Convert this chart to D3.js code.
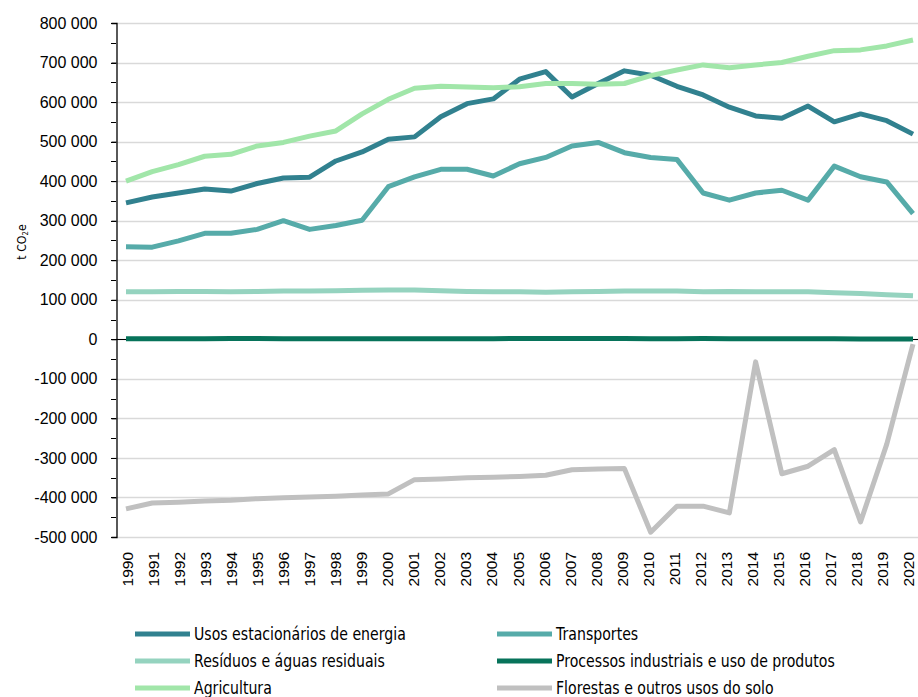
<!DOCTYPE html>
<html>
<head>
<meta charset="utf-8">
<script src="https://cdn.jsdelivr.net/npm/d3@7"></script>
<style>
  body { margin: 0; background: #fff; }
  svg { display: block; }
</style>
</head>
<body>
<script>
var width = 918,
    height = 697;

var years = d3.range(1990, 2021).map(String);

var energia = [345000, 360000, 370000, 380000, 375000, 394000, 408000, 410000, 451000, 474000,
  506000, 512000, 563000, 596000, 608000, 658000, 677000, 613000, 647000, 679000,
  668000, 640000, 618000, 587000, 565000, 559000, 590000, 550000, 570000, 553000, 519000];
var transportes = [234000, 233000, 249000, 268000, 268000, 278000, 300000, 278000, 288000, 301000,
  386000, 411000, 430000, 430000, 413000, 444000, 460000, 489000, 498000, 472000,
  460000, 455000, 370000, 352000, 370000, 377000, 352000, 438000, 411000, 398000, 318000];
var residuos = [120000, 120000, 121000, 121000, 120000, 121000, 122000, 122000, 123000, 124000,
  125000, 125000, 123000, 121000, 120000, 120000, 119000, 120000, 121000, 122000,
  122000, 122000, 120000, 121000, 120000, 120000, 120000, 118000, 116000, 113000, 110000];
var processos = [1500, 1500, 1500, 1500, 2000, 2000, 1500, 1500, 1500, 1500,
  1500, 1500, 1500, 1500, 1500, 2000, 2000, 2000, 2000, 2000,
  1500, 1500, 2000, 1500, 1500, 1500, 1500, 1500, 1000, 1000, 1000];
var agricultura = [400000, 424000, 442000, 463000, 468000, 489000, 498000, 514000, 527000, 570000,
  607000, 635000, 640000, 638000, 636000, 639000, 647000, 647000, 645000, 647000,
  667000, 681000, 694000, 687000, 694000, 700000, 716000, 730000, 732000, 742000, 757000];
var florestas = [-429000, -414000, -412000, -409000, -407000, -403000, -401000, -399000, -397000, -394000,
  -391000, -355000, -353000, -350000, -349000, -347000, -344000, -330000, -328000, -327000,
  -488000, -422000, -422000, -439000, -57000, -340000, -321000, -279000, -462000, -265000, -12000];

var seriesNames = ["Usos estacionários de energia", "Transportes", "Resíduos e águas residuais",
  "Processos industriais e uso de produtos", "Agricultura", "Florestas e outros usos do solo"];
var seriesColors = ["#31818f", "#56aba9", "#95d3bf", "#07735a", "#a1e6a9", "#c0c0c0"];
var seriesValues = [energia, transportes, residuos, processos, agricultura, florestas];

var yTicks = d3.range(-500000, 800001, 100000);
var yMinor = d3.range(-500000, 800001, 50000);

var plotLeft = 116, plotRight = 918, plotTop = 23, plotBottom = 537;
var sansFont = "'Liberation Sans', Arial, sans-serif";
var narrowFont = "'DejaVu Sans', sans-serif";

var svg = d3.select("body")
  .append("svg")
  .attr("width", width)
  .attr("height", height);

var xScale = d3.scalePoint()
  .domain(years)
  .range([126, 913]);

// the category labels sit a touch inside the first/last points
var labelScale = xScale.copy().range([133, 914]);

var yScale = d3.scaleLinear()
  .domain([-500000, 800000])
  .range([plotBottom, plotTop]);

var fmt = function(d) {
  return d3.format(",")(d).replace(/,/g, " ").replace("\u2212", "-");
};

// gridlines
svg.append("g")
  .selectAll("line")
  .data(yTicks)
  .enter()
  .append("line")
  .attr("x1", plotLeft)
  .attr("x2", plotRight)
  .attr("y1", function(d) { return Math.round(yScale(d)) + 0.5; })
  .attr("y2", function(d) { return Math.round(yScale(d)) + 0.5; })
  .attr("stroke", "#d9d9d9")
  .attr("stroke-width", 1.3);

// zero axis line
svg.append("line")
  .attr("x1", plotLeft)
  .attr("x2", plotRight)
  .attr("y1", Math.round(yScale(0)) + 0.5)
  .attr("y2", Math.round(yScale(0)) + 0.5)
  .attr("stroke", "#000")
  .attr("stroke-width", 1);

// minor ticks
svg.append("g")
  .selectAll("line")
  .data(yMinor)
  .enter()
  .append("line")
  .attr("x1", plotLeft - 5)
  .attr("x2", plotLeft)
  .attr("y1", function(d) { return Math.round(yScale(d)) + 0.5; })
  .attr("y2", function(d) { return Math.round(yScale(d)) + 0.5; })
  .attr("stroke", "#000");

// y axis
var yAxis = d3.axisLeft(yScale)
  .tickValues(yTicks)
  .tickFormat(fmt)
  .tickSize(5)
  .tickPadding(14);

var yG = svg.append("g")
  .attr("transform", "translate(" + (plotLeft + 0.5) + ",0)")
  .call(yAxis);
yG.attr("font-family", sansFont).attr("font-size", 16);
yG.select(".domain").attr("stroke", "#000").attr("stroke-width", 1.3);
yG.selectAll(".tick text").attr("fill", "#000");

// x labels
svg.append("g")
  .selectAll("text")
  .data(years)
  .enter()
  .append("text")
  .attr("transform", function(d) {
    return "translate(" + labelScale(d) + "," + 552 + ") rotate(-90)";
  })
  .attr("text-anchor", "end")
  .attr("font-family", sansFont)
  .attr("font-size", 15.5)
  .attr("fill", "#000")
  .text(function(d) { return d; });

// y title
var yTitle = svg.append("text")
  .attr("transform", "translate(26,242) rotate(-90) scale(0.85,1)")
  .attr("text-anchor", "middle")
  .attr("font-family", narrowFont)
  .attr("font-size", 13)
  .attr("fill", "#000");
yTitle.append("tspan").text("t CO");
yTitle.append("tspan").attr("font-size", 8).attr("dy", 2).text("2");
yTitle.append("tspan").attr("dy", -2).text("e");

// lines
var line = d3.line()
  .x(function(d, i) { return xScale(years[i]); })
  .y(function(d) { return yScale(d); });

var drawOrder = [5, 2, 3, 1, 0, 4];
svg.append("g")
  .selectAll("path")
  .data(drawOrder)
  .enter()
  .append("path")
  .attr("d", function(k) { return line(seriesValues[k]); })
  .attr("fill", "none")
  .attr("stroke", function(k) { return seriesColors[k]; })
  .attr("stroke-width", 5)
  .attr("stroke-linejoin", "round");

// legend
var legend = svg.append("g")
  .selectAll("g")
  .data(seriesNames)
  .enter()
  .append("g")
  .attr("transform", function(d, i) {
    var col = i % 2, row = Math.floor(i / 2);
    return "translate(" + (col === 0 ? 135 : 497) + "," + (634 + row * 27) + ")";
  });

legend.append("line")
  .attr("x1", 0)
  .attr("x2", 55)
  .attr("stroke", function(d, i) { return seriesColors[i]; })
  .attr("stroke-width", 5);

// condensed look: squeeze the text horizontally
legend.append("text")
  .attr("transform", "translate(59,6) scale(0.83,1)")
  .attr("font-family", narrowFont)
  .attr("font-size", 17)
  .attr("fill", "#000")
  .text(function(d) { return d; });
</script>
</body>
</html>
